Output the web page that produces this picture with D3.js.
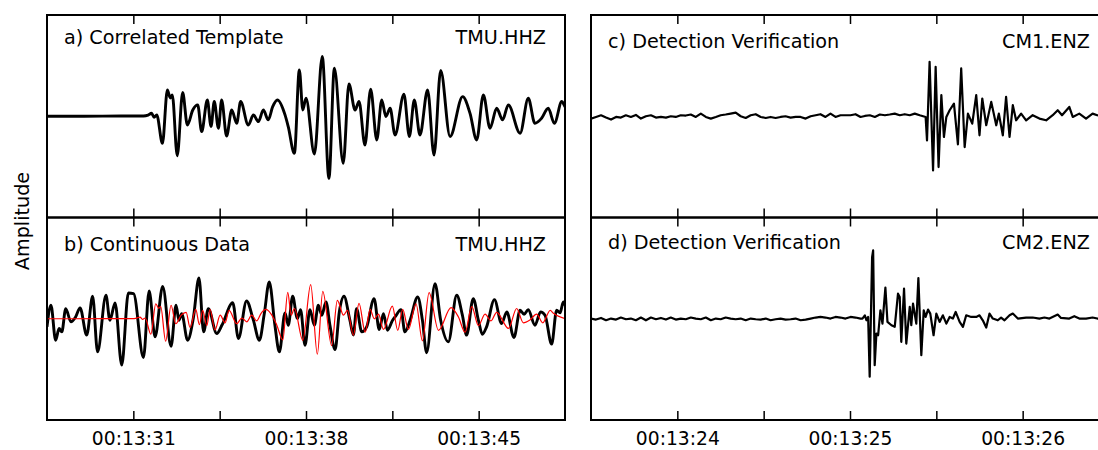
<!DOCTYPE html>
<html lang="en">
<head>
<meta charset="utf-8">
<script src="https://d3js.org/d3.v7.min.js"></script>
<style>
  body { margin: 0; background: #fff; }
  text { font-family: "DejaVu Sans", sans-serif; fill: #000; }
</style>
</head>
<body>
<svg id="chart" width="1098" height="450"></svg>
<script>
// time in seconds after 00:13:00, amplitude normalised to the panel half-height

// a) template at TMU.HHZ
var templateTrace = [
  [27.50, 0.000], [29.00, 0.000], [30.50, 0.003], [31.41, 0.003], [31.60, 0.012],
  [31.74, 0.029], [31.84, -0.010], [31.95, 0.013], [32.18, -0.268], [32.38, 0.260],
  [32.50, 0.180], [32.58, 0.211], [32.78, -0.390], [33.00, 0.234], [33.19, -0.086],
  [33.41, 0.062], [33.61, 0.112], [33.77, -0.152], [34.00, 0.161], [34.15, -0.102],
  [34.28, 0.145], [34.45, -0.119], [34.58, 0.161], [34.78, -0.195], [34.99, 0.062],
  [35.19, -0.070], [35.35, 0.145], [35.66, -0.086], [35.87, 0.013], [36.07, -0.053],
  [36.27, 0.062], [36.47, -0.036], [36.65, 0.095], [36.84, 0.161], [37.15, 0.013],
  [37.28, -0.103], [37.53, -0.366], [37.73, 0.458], [37.87, 0.062], [38.00, 0.178],
  [38.34, -0.373], [38.66, 0.590], [38.93, -0.614], [39.15, 0.475], [39.51, -0.465],
  [39.74, 0.320], [39.99, 0.062], [40.15, 0.145], [40.39, -0.284], [40.62, 0.267],
  [40.87, -0.234], [41.07, 0.161], [41.24, -0.003], [41.41, 0.079], [41.61, -0.185],
  [41.97, 0.218], [42.19, -0.200], [42.39, 0.161], [42.62, -0.185], [42.93, 0.260],
  [43.19, -0.383], [43.46, 0.452], [43.84, -0.200], [44.35, 0.194], [44.65, 0.029],
  [44.92, -0.234], [45.19, 0.211], [45.46, -0.119], [45.73, 0.079], [45.97, -0.036],
  [46.20, 0.112], [46.68, -0.168], [47.01, 0.178], [47.28, -0.070], [47.55, -0.020],
  [47.82, 0.079], [48.07, -0.070], [48.37, 0.145], [48.50, 0.095], [49.00, 0.000]
];

// b) continuous data at TMU.HHZ
var continuousTrace = [
  [27.50, -0.080], [27.66, 0.133], [27.85, -0.212], [27.99, -0.097], [28.10, -0.130],
  [28.26, 0.100], [28.47, -0.031], [28.66, 0.018], [28.84, 0.107], [29.11, -0.162],
  [29.35, 0.222], [29.55, -0.327], [29.89, 0.232], [30.05, -0.015], [30.26, 0.156],
  [30.53, -0.458], [30.80, 0.255], [31.01, 0.248], [31.41, -0.382], [31.64, 0.274],
  [31.88, -0.179], [32.19, 0.320], [32.53, -0.271], [32.73, 0.133], [32.85, -0.015],
  [32.96, 0.051], [33.20, -0.212], [33.43, 0.002], [33.66, 0.402], [33.85, -0.130],
  [34.04, 0.100], [34.38, -0.146], [34.60, -0.060], [35.03, 0.159], [35.26, -0.195],
  [35.59, 0.176], [35.86, -0.008], [36.11, -0.212], [36.31, 0.051], [36.51, 0.363],
  [36.74, -0.064], [36.92, -0.327], [37.15, 0.058], [37.28, -0.064], [37.46, 0.222],
  [37.65, 0.002], [37.78, 0.090], [37.96, -0.261], [38.16, 0.090], [38.34, -0.064],
  [38.50, 0.133], [38.64, 0.035], [38.81, 0.166], [38.97, -0.064], [39.18, -0.304],
  [39.35, 0.067], [39.54, 0.222], [39.78, -0.015], [39.92, -0.160], [40.05, 0.100],
  [40.26, -0.130], [40.46, -0.080], [40.76, 0.199], [40.97, -0.107], [41.14, 0.051],
  [41.30, -0.113], [41.51, -0.015], [41.61, 0.018], [41.85, 0.090], [42.01, -0.130],
  [42.22, -0.015], [42.53, 0.215], [42.72, -0.015], [42.89, -0.336], [43.23, 0.347],
  [43.46, -0.015], [43.77, -0.228], [44.11, 0.232], [44.34, 0.035], [44.51, -0.162],
  [44.78, 0.199], [44.99, -0.015], [45.15, -0.153], [45.32, -0.080], [45.64, 0.189],
  [45.93, -0.047], [46.14, 0.068], [46.43, -0.185], [46.68, 0.084], [46.84, 0.045],
  [47.01, 0.090], [47.28, -0.064], [47.51, 0.068], [47.69, 0.035], [47.96, -0.251],
  [48.16, 0.084], [48.30, 0.058], [48.43, 0.166], [48.50, 0.133]
];

// template as overlaid on b) at the detection lag
var templateLag = -0.47;
var templateScale = 0.57;

// c) CM1.ENZ
var cm1Trace = [
  [23.500, -0.023], [23.529, -0.007], [23.558, 0.010], [23.587, -0.013], [23.616, -0.033],
  [23.645, -0.007], [23.673, -0.013], [23.702, 0.010], [23.731, -0.007], [23.760, 0.013],
  [23.789, -0.023], [23.818, 0.000], [23.847, 0.010], [23.876, -0.013], [23.905, -0.007],
  [23.934, -0.013], [23.962, 0.000], [23.991, -0.007], [24.020, 0.010], [24.049, 0.007],
  [24.078, 0.017], [24.107, -0.007], [24.136, 0.026], [24.165, -0.007], [24.194, -0.023],
  [24.223, -0.007], [24.251, 0.010], [24.280, 0.017], [24.309, 0.026], [24.338, 0.036],
  [24.367, 0.000], [24.396, -0.017], [24.425, 0.010], [24.454, 0.020], [24.483, -0.007],
  [24.512, -0.017], [24.540, -0.007], [24.569, -0.017], [24.598, -0.007], [24.627, 0.000],
  [24.656, -0.013], [24.685, -0.007], [24.714, -0.007], [24.743, -0.023], [24.772, 0.000],
  [24.801, 0.010], [24.829, 0.020], [24.858, -0.007], [24.887, 0.026], [24.916, -0.007],
  [24.945, 0.010], [24.974, 0.010], [25.003, 0.010], [25.032, 0.020], [25.061, -0.007],
  [25.086, 0.003], [25.115, 0.010], [25.144, -0.007], [25.173, 0.017], [25.202, 0.010],
  [25.230, 0.017], [25.259, 0.026], [25.288, 0.010], [25.317, 0.020], [25.346, 0.010],
  [25.375, 0.026], [25.404, 0.010], [25.438, -0.007], [25.446, -0.238], [25.461, 0.538],
  [25.481, -0.535], [25.496, 0.488], [25.513, -0.502], [25.529, 0.208], [25.544, -0.205],
  [25.558, -0.007], [25.577, 0.059], [25.602, 0.125], [25.625, -0.277], [25.644, 0.472],
  [25.664, -0.304], [25.683, 0.026], [25.708, -0.073], [25.731, 0.208], [25.750, -0.188],
  [25.766, 0.175], [25.789, -0.089], [25.818, 0.142], [25.847, -0.089], [25.862, 0.026],
  [25.885, -0.188], [25.904, 0.191], [25.924, -0.205], [25.943, 0.109], [25.962, -0.040],
  [25.991, 0.026], [26.020, -0.040], [26.058, 0.010], [26.097, -0.023], [26.136, -0.040],
  [26.174, 0.010], [26.203, 0.059], [26.228, 0.010], [26.270, 0.092], [26.290, -0.007],
  [26.328, 0.026], [26.367, -0.023], [26.405, 0.026], [26.432, 0.010], [26.500, 0.000]
];

// d) CM2.ENZ
var cm2Trace = [
  [23.500, 0.002], [23.529, -0.008], [23.558, 0.008], [23.587, -0.015], [23.616, 0.002],
  [23.645, -0.008], [23.673, 0.012], [23.702, -0.005], [23.731, 0.002], [23.760, -0.015],
  [23.789, 0.012], [23.818, -0.015], [23.847, 0.012], [23.876, -0.005], [23.905, 0.008],
  [23.934, -0.008], [23.962, 0.012], [23.991, -0.008], [24.020, 0.002], [24.049, -0.005],
  [24.078, 0.012], [24.107, 0.002], [24.136, -0.005], [24.165, 0.012], [24.194, -0.015],
  [24.223, 0.002], [24.251, -0.005], [24.280, 0.012], [24.309, 0.002], [24.338, -0.005],
  [24.367, 0.002], [24.396, -0.015], [24.425, 0.002], [24.454, -0.005], [24.483, -0.008],
  [24.512, 0.002], [24.540, -0.015], [24.569, -0.005], [24.598, 0.002], [24.627, -0.008],
  [24.656, -0.005], [24.685, 0.002], [24.714, -0.015], [24.743, -0.008], [24.772, 0.002],
  [24.801, 0.012], [24.829, 0.018], [24.858, 0.012], [24.887, 0.002], [24.916, 0.018],
  [24.945, 0.012], [24.974, 0.002], [25.003, 0.018], [25.032, 0.012], [25.061, 0.002],
  [25.072, 0.002], [25.086, 0.034], [25.095, -0.015], [25.105, 0.018], [25.114, -0.573],
  [25.128, 0.609], [25.134, 0.675], [25.143, -0.458], [25.153, -0.146], [25.163, -0.163],
  [25.176, 0.084], [25.188, -0.048], [25.205, 0.307], [25.217, -0.031], [25.240, -0.064],
  [25.259, -0.080], [25.278, 0.248], [25.288, 0.215], [25.297, -0.228], [25.313, 0.297],
  [25.326, -0.245], [25.346, 0.117], [25.355, -0.064], [25.365, 0.149], [25.384, -0.048],
  [25.396, 0.402], [25.413, -0.360], [25.427, 0.084], [25.438, 0.018], [25.452, 0.090],
  [25.465, 0.051], [25.484, -0.163], [25.500, 0.051], [25.519, -0.031], [25.538, 0.034],
  [25.558, -0.048], [25.577, 0.018], [25.596, 0.002], [25.612, 0.067], [25.635, -0.031],
  [25.654, -0.080], [25.673, 0.034], [25.702, 0.018], [25.731, 0.018], [25.750, 0.034],
  [25.769, -0.015], [25.789, -0.087], [25.808, 0.051], [25.827, 0.002], [25.856, -0.015],
  [25.875, 0.012], [25.895, -0.015], [25.924, 0.034], [25.943, 0.051], [25.972, 0.002],
  [26.020, 0.012], [26.058, 0.012], [26.097, 0.002], [26.126, 0.012], [26.155, 0.002],
  [26.203, 0.041], [26.222, 0.008], [26.270, 0.002], [26.299, 0.025], [26.328, 0.002],
  [26.367, 0.002], [26.405, 0.012], [26.432, 0.002], [26.500, 0.000]
];

var leftTicks = [31, 34.5, 38, 41.5, 45];
var leftLabels = [31, 38, 45];
var rightTicks = [24, 24.5, 25, 25.5, 26];
var rightLabels = [24, 25, 26];

var panelTitles = ["a) Correlated Template", "b) Continuous Data", "c) Detection Verification", "d) Detection Verification"];
var stations = ["TMU.HHZ", "TMU.HHZ", "CM1.ENZ", "CM2.ENZ"];
var yLabel = "Amplitude";

var svg = d3.select("#chart");
svg.append("rect").attr("width", 1098).attr("height", 450).attr("fill", "#fff");

var columns = [
    { left: 47, right: 565, domain: [27.5, 48.5], ticks: leftTicks, labels: leftLabels },
    { left: 591, right: 1109, domain: [23.5, 26.5], ticks: rightTicks, labels: rightLabels }
];
var rows = [{ top: 15, bottom: 217.5 }, { top: 217.5, bottom: 420 }];

var shiftedTemplate = templateTrace.map(function (d) {
    return [d[0] + templateLag, d[1] * templateScale];
});

var panels = [
    { col: 0, row: 0, titleDy: 29, traces: [
        { data: templateTrace, color: "#000", width: 2.9, curve: d3.curveMonotoneX }] },
    { col: 0, row: 1, titleDy: 33.5, traces: [
        { data: continuousTrace, color: "#000", width: 2.9, curve: d3.curveMonotoneX },
        { data: shiftedTemplate, color: "#ff0000", width: 1.2, curve: d3.curveMonotoneX }] },
    { col: 1, row: 0, titleDy: 33, traces: [
        { data: cm1Trace, color: "#000", width: 2.2, curve: d3.curveLinear }] },
    { col: 1, row: 1, titleDy: 31, traces: [
        { data: cm2Trace, color: "#000", width: 2.2, curve: d3.curveLinear }] }
];

var fmt = d3.format("02d");

panels.forEach(function (p, i) {
    var c = columns[p.col], r = rows[p.row];
    var x = d3.scaleLinear().domain(c.domain).range([c.left, c.right]);
    var y = d3.scaleLinear().domain([-1, 1]).range([r.bottom, r.top]);
    var g = svg.append("g");

    g.append("clipPath").attr("id", "clip" + i)
        .append("rect")
        .attr("x", c.left).attr("y", r.top)
        .attr("width", c.right - c.left).attr("height", r.bottom - r.top);

    var line = d3.line()
        .x(function (d) { return x(d[0]); })
        .y(function (d) { return y(d[1]); });

    p.traces.forEach(function (t) {
        g.append("path")
            .attr("clip-path", "url(#clip" + i + ")")
            .attr("d", line.curve(t.curve)(t.data))
            .attr("fill", "none")
            .attr("stroke", t.color)
            .attr("stroke-width", t.width)
            .attr("stroke-linejoin", "round");
    });

    // inward ticks top and bottom
    g.append("g")
        .attr("transform", "translate(0," + r.top + ")")
        .call(d3.axisTop(x).tickValues(c.ticks).tickSize(-9).tickFormat(""))
        .call(function (a) { a.select(".domain").remove(); })
        .selectAll("line").attr("stroke-width", 1.5);
    g.append("g")
        .attr("transform", "translate(0," + r.bottom + ")")
        .call(d3.axisBottom(x).tickValues(c.ticks).tickSize(-9).tickFormat(""))
        .call(function (a) { a.select(".domain").remove(); })
        .selectAll("line").attr("stroke-width", 1.5);

    if (p.row === 1) {
        g.append("g")
            .attr("transform", "translate(0," + r.bottom + ")")
            .call(d3.axisBottom(x).tickValues(c.labels).tickSize(0).tickPadding(12)
                .tickFormat(function (d) { return "00:13:" + fmt(d); }))
            .call(function (a) { a.select(".domain").remove(); })
            .selectAll("text")
            .attr("font-family", "DejaVu Sans")
            .attr("font-size", 18.7)
            .attr("fill", "#000");
    }

    g.append("rect")
        .attr("x", c.left).attr("y", r.top)
        .attr("width", c.right - c.left).attr("height", r.bottom - r.top)
        .attr("fill", "none")
        .attr("stroke", "#000")
        .attr("stroke-width", 2);

    g.append("text")
        .attr("x", c.left + 17)
        .attr("y", r.top + p.titleDy)
        .attr("font-size", 19.2)
        .text(panelTitles[i]);
    g.append("text")
        .attr("x", c.right - 19)
        .attr("y", r.top + p.titleDy)
        .attr("text-anchor", "end")
        .attr("font-size", 19.2)
        .text(stations[i]);
});

svg.append("text")
    .attr("transform", "translate(29,221) rotate(-90)")
    .attr("text-anchor", "middle")
    .attr("font-size", 19.2)
    .text(yLabel);
</script>
</body>
</html>
